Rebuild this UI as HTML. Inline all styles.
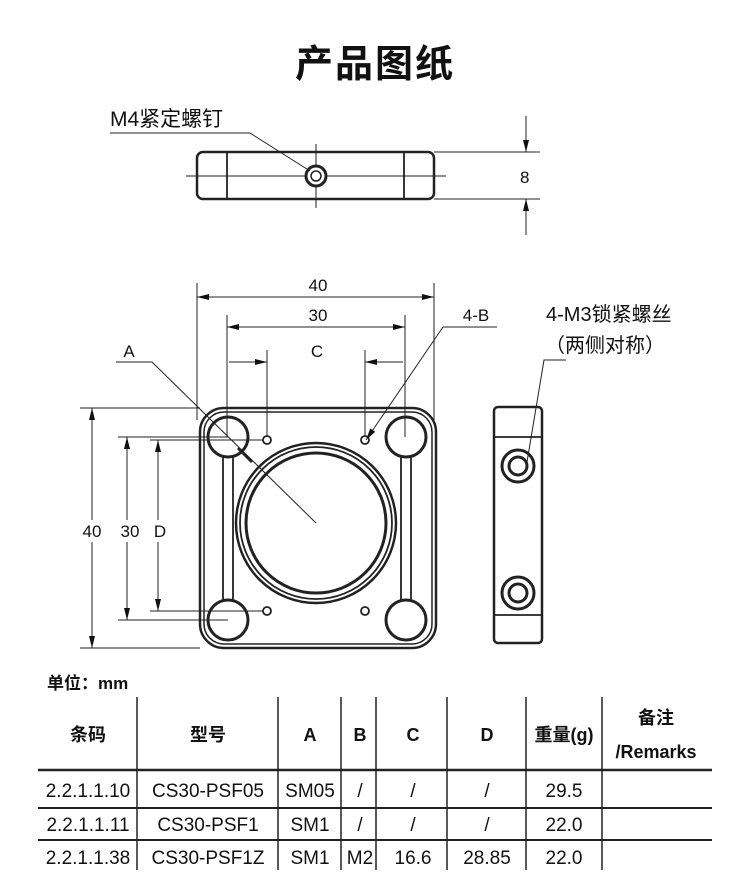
<!DOCTYPE html>
<html><head><meta charset="utf-8"><style>
html,body{margin:0;padding:0;background:#fff;width:750px;height:881px;overflow:hidden}
svg{display:block}
text{font-family:"Liberation Sans","Noto Sans CJK SC",sans-serif;fill:#111}
</style></head><body>
<svg width="750" height="881" viewBox="0 0 750 881" xmlns="http://www.w3.org/2000/svg">
<defs>
<marker id="ar" viewBox="0 0 12 6" refX="12" refY="3" markerWidth="12" markerHeight="6" orient="auto-start-reverse" markerUnits="userSpaceOnUse"><path d="M0,0 L12,3 L0,6 z" fill="#111"/></marker>
</defs>
<text x="375" y="77" font-size="38" font-weight="bold" text-anchor="middle" style="letter-spacing:2px">产品图纸</text>

<!-- Top view -->
<g stroke="#222" fill="none">
<rect x="197" y="152" width="237" height="47" rx="6" stroke-width="2.5"/>
<line x1="227" y1="152" x2="227" y2="199" stroke-width="1.8"/>
<line x1="404" y1="152" x2="404" y2="199" stroke-width="1.8"/>
<line x1="186" y1="176" x2="446" y2="176" stroke-width="1"/>
<line x1="316" y1="144" x2="316" y2="208" stroke-width="1"/>
<circle cx="316" cy="176" r="10" stroke-width="3" fill="#fff"/>
<circle cx="316" cy="176" r="5" stroke-width="1.5"/>
<line x1="434" y1="152" x2="540" y2="152" stroke-width="1"/>
<line x1="434" y1="199" x2="540" y2="199" stroke-width="1"/>
<line x1="526" y1="116" x2="526" y2="152" stroke-width="1" marker-end="url(#ar)"/>
<line x1="526" y1="235" x2="526" y2="199" stroke-width="1" marker-end="url(#ar)"/>
<polyline points="110,133 250,133 310,171" stroke-width="1"/>
</g>
<text x="110" y="126" font-size="21">M4紧定螺钉</text>
<text x="520" y="183" font-size="17">8</text>

<!-- Front view -->
<g stroke="#222" fill="none">
<rect x="200" y="408" width="236" height="240" rx="24" stroke-width="2.5"/>
<rect x="204" y="412" width="228" height="232" rx="20" stroke-width="1.5"/>
<g stroke-width="3" fill="#fff">
<circle cx="228" cy="437" r="20"/><circle cx="406" cy="437" r="20"/>
<circle cx="228" cy="620" r="20"/><circle cx="406" cy="620" r="20"/>
</g>
<g stroke-width="1.8">
<line x1="223" y1="457" x2="223" y2="600"/><line x1="233" y1="457" x2="233" y2="600"/>
<line x1="401" y1="457" x2="401" y2="600"/><line x1="411" y1="457" x2="411" y2="600"/>
</g>
<circle cx="316" cy="523" r="80" stroke-width="2.5"/>
<circle cx="316" cy="523" r="76" stroke-width="1.8"/>
<circle cx="316" cy="523" r="70" stroke-width="3"/>
<g stroke-width="1.8">
<circle cx="267" cy="440" r="4"/><circle cx="365" cy="440" r="4"/>
<circle cx="267" cy="611" r="4"/><circle cx="365" cy="611" r="4"/>
</g>
<g stroke-width="1">
<line x1="197" y1="283" x2="197" y2="420"/><line x1="434" y1="283" x2="434" y2="420"/>
<line x1="197" y1="297" x2="434" y2="297" marker-start="url(#ar)" marker-end="url(#ar)"/>
<line x1="227" y1="315" x2="227" y2="437"/><line x1="405" y1="315" x2="405" y2="437"/>
<line x1="227" y1="327" x2="405" y2="327" marker-start="url(#ar)" marker-end="url(#ar)"/>
<line x1="267" y1="350" x2="267" y2="436"/><line x1="365" y1="350" x2="365" y2="436"/>
<line x1="229" y1="362" x2="267" y2="362" marker-end="url(#ar)"/>
<line x1="403" y1="362" x2="365" y2="362" marker-end="url(#ar)"/>
<line x1="80" y1="408" x2="200" y2="408"/><line x1="80" y1="648" x2="200" y2="648"/>
<line x1="92" y1="408" x2="92" y2="648" marker-start="url(#ar)" marker-end="url(#ar)"/>
<line x1="118" y1="437" x2="228" y2="437"/><line x1="118" y1="620" x2="228" y2="620"/>
<line x1="127" y1="437" x2="127" y2="620" marker-start="url(#ar)" marker-end="url(#ar)"/>
<line x1="150" y1="440" x2="263" y2="440"/><line x1="150" y1="611" x2="263" y2="611"/>
<line x1="158" y1="440" x2="158" y2="611" marker-start="url(#ar)" marker-end="url(#ar)"/>
<polyline points="116,362 152,362 316,523"/>
<line x1="497" y1="327" x2="443" y2="327"/>
<line x1="443" y1="327" x2="366" y2="440" marker-end="url(#ar)"/>
<line x1="252" y1="462" x2="238" y2="448" stroke-width="3"/>
</g>
</g>
<rect x="84" y="520" width="16" height="22" fill="#fff"/>
<rect x="120" y="520" width="18" height="22" fill="#fff"/>
<rect x="152" y="520" width="14" height="22" fill="#fff"/>
<g font-size="17" text-anchor="middle">
<text x="318" y="291">40</text>
<text x="318" y="321">30</text>
<text x="317" y="357">C</text>
<text x="129" y="357">A</text>
<text x="476" y="321">4-B</text>
<text x="92" y="537">40</text>
<text x="130" y="537">30</text>
<text x="160" y="537">D</text>
</g>

<!-- Side view -->
<g stroke="#222" fill="none">
<rect x="494" y="407" width="48" height="236" rx="4" stroke-width="2.5"/>
<line x1="494" y1="437" x2="542" y2="437" stroke-width="1.8"/>
<line x1="494" y1="615" x2="542" y2="615" stroke-width="1.8"/>
<circle cx="518" cy="466" r="16" stroke-width="3"/><circle cx="518" cy="466" r="9" stroke-width="3"/>
<circle cx="518" cy="593" r="16" stroke-width="3"/><circle cx="518" cy="593" r="9" stroke-width="3"/>
<polyline points="566,360 544,360 527,462" stroke-width="1"/>
</g>
<text x="546" y="321" font-size="20">4-M3锁紧螺丝</text>
<text x="545" y="352" font-size="20">（两侧对称）</text>

<!-- Table -->
<text x="47" y="689" font-size="17" font-weight="bold">单位：mm</text>
<g stroke="#222" stroke-width="1.5">
<line x1="137" y1="697" x2="137" y2="870"/>
<line x1="278" y1="697" x2="278" y2="870"/>
<line x1="341" y1="697" x2="341" y2="870"/>
<line x1="376" y1="697" x2="376" y2="870"/>
<line x1="447" y1="697" x2="447" y2="870"/>
<line x1="526" y1="697" x2="526" y2="870"/>
<line x1="602" y1="697" x2="602" y2="870"/>
<line x1="38" y1="770" x2="712" y2="770" stroke-width="2.5"/>
<line x1="38" y1="808" x2="712" y2="808" stroke-width="2"/>
<line x1="38" y1="840" x2="712" y2="840" stroke-width="2"/>
</g>
<g font-size="18" font-weight="bold" text-anchor="middle">
<text x="88" y="741">条码</text>
<text x="208" y="741">型号</text>
<text x="310" y="741">A</text>
<text x="360" y="741">B</text>
<text x="413" y="741">C</text>
<text x="487" y="741">D</text>
<text x="564" y="741">重量(g)</text>
<text x="656" y="724">备注</text>
<text x="656" y="758">/Remarks</text>
</g>
<g font-size="19" text-anchor="middle">
<text x="88" y="797">2.2.1.1.10</text><text x="208" y="797">CS30-PSF05</text><text x="310" y="797">SM05</text><text x="360" y="797">/</text><text x="413" y="797">/</text><text x="487" y="797">/</text><text x="564" y="797">29.5</text>
<text x="88" y="831">2.2.1.1.11</text><text x="208" y="831">CS30-PSF1</text><text x="310" y="831">SM1</text><text x="360" y="831">/</text><text x="413" y="831">/</text><text x="487" y="831">/</text><text x="564" y="831">22.0</text>
<text x="88" y="864">2.2.1.1.38</text><text x="208" y="864">CS30-PSF1Z</text><text x="310" y="864">SM1</text><text x="360" y="864">M2</text><text x="413" y="864">16.6</text><text x="487" y="864">28.85</text><text x="564" y="864">22.0</text>
</g>
</svg>
</body></html>
